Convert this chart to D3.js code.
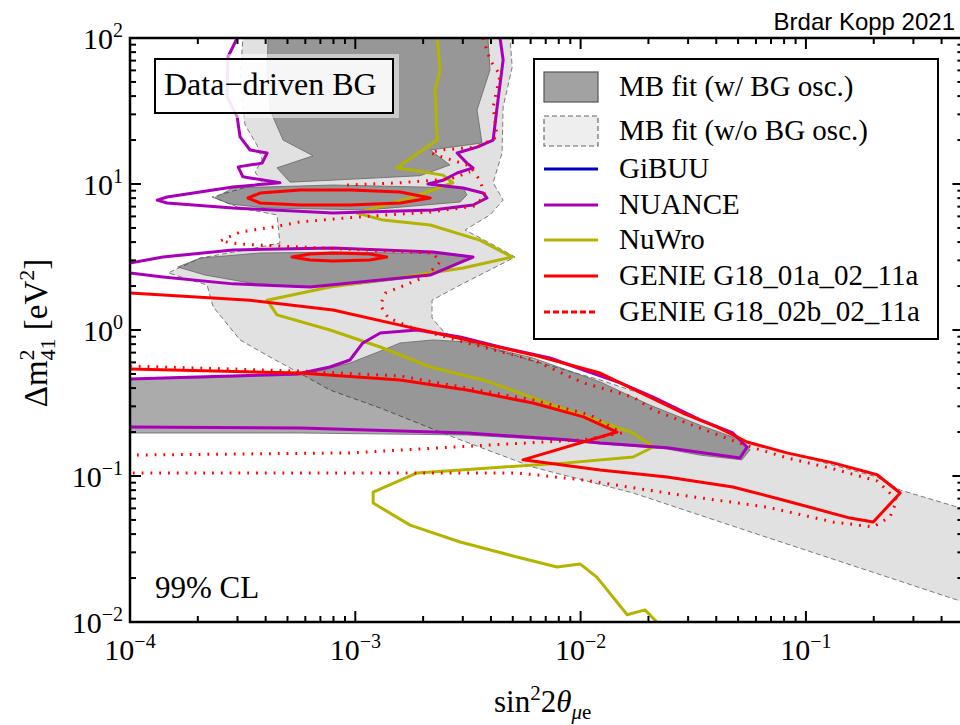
<!DOCTYPE html>
<html><head><meta charset="utf-8">
<script src="https://cdn.jsdelivr.net/npm/d3@7"></script>
<style>body{margin:0;background:#fff}svg{display:block}</style>
</head><body>
<svg id="chart" width="960" height="725"></svg>
<script>
// ---------------- DATA (sin^2 2theta, Δm^2 in eV^2) ----------------
const xTickExponents = [-4, -3, -2, -1];
const yTickExponents = [-2, -1, 0, 1, 2];
const legendLabels = ["MB fit (w/ BG osc.)", "MB fit (w/o BG osc.)", "GiBUU", "NUANCE", "NuWro", "GENIE G18_01a_02_11a", "GENIE G18_02b_02_11a"];

// MB fit without BG oscillation (light region)
const mbFitNoOsc = [[3.17e-4,100],[4.86e-3,100],[4.97e-3,63.2],[4.53e-3,33.7],[4.48e-3,16.3],[4.09e-3,10.2],[4.53e-3,7.76],[3.96e-3,6.14],[3.07e-3,4.84],[3.96e-3,3.94],[5.12e-3,3.16],[3.96e-3,2.58],[2.92e-3,2.03],[2.19e-3,1.60],[2.19e-3,1.21],[2.50e-3,0.953],[3.23e-3,0.828],[5.96e-3,0.623],[1.22e-2,0.455],[2.25e-2,0.332],[5.48e-2,0.171],[0.207,0.0984],[0.262,0.0802],[0.469,0.0613],[0.5,0.0594],[0.5,0.0137],[6.25e-2,0.0394],[1.71e-2,0.0765],[6.15e-3,0.115],[2.71e-3,0.185],[1.29e-3,0.292],[7.72e-4,0.388],[5.86e-4,0.492],[4.18e-4,0.653],[3.08e-4,0.855],[2.34e-4,1.44],[2.20e-4,2.03],[1.48e-4,2.46],[2.05e-4,3.11],[3.08e-4,3.48],[4.63e-4,3.94],[4.49e-4,6.14],[3.08e-4,6.85],[2.31e-4,8.15],[3.86e-4,10.2],[3.59e-4,12.1],[3.86e-4,14.6],[3.66e-4,18.5],[3.24e-4,25.4],[3.08e-4,51.5]];

// MB fit with BG oscillation (dark regions)
const mbFitOscTop = [[4.10e-4,100],[3.88e-3,100],[3.96e-3,60.4],[3.47e-3,32.1],[3.65e-3,19.1],[2.15e-3,17.1],[2.63e-3,13.5],[1.94e-3,11.4],[7.72e-4,10.6],[5.13e-4,10.3],[4.49e-4,12.9],[6.49e-4,15.6],[4.78e-4,20.0],[4.18e-4,32.1],[4.06e-4,60.4]];
const mbFitOscBand8 = [[2.38e-4,8.02],[2.86e-4,9.40],[7.96e-4,9.84],[3.01e-3,9.40],[3.13e-3,8.41],[2.92e-3,7.53],[1.13e-3,6.64],[4.06e-4,6.85],[2.78e-4,7.29]];
const mbFitOscBand3 = [[1.63e-4,2.70],[2.05e-4,3.11],[3.78e-4,3.37],[9.47e-4,3.42],[2.38e-3,3.32],[3.13e-3,3.16],[2.63e-3,2.66],[1.94e-3,2.31],[9.47e-4,2.03],[5.69e-4,1.97],[3.41e-4,2.10],[2.15e-4,2.38]];
const mbFitOscLow = [[1e-4,0.461],[2.05e-4,0.469],[5.86e-4,0.492],[7.72e-4,0.549],[9.47e-4,0.594],[1.33e-3,0.730],[1.58e-3,0.815],[2.21e-3,0.855],[3.13e-3,0.828],[4.39e-3,0.730],[6.15e-3,0.643],[8.71e-3,0.532],[1.22e-2,0.441],[2.03e-2,0.306],[3.39e-2,0.223],[5.10e-2,0.177],[5.65e-2,0.151],[5.20e-2,0.129],[3.39e-2,0.139],[2.42e-2,0.153],[1.22e-2,0.166],[8.71e-3,0.174],[3.13e-3,0.191],[5.69e-4,0.197],[1e-4,0.197]];

// NUANCE
const nuanceTop = [[2.99e-4,100],[2.72e-4,74.1],[2.70e-4,39.4],[2.99e-4,28.8],[3.08e-4,21.0],[3.41e-4,17.1],[4.06e-4,16.3],[3.86e-4,13.9],[3.02e-4,13.1],[3.17e-4,11.2],[4.63e-4,10.2],[2.86e-4,9.53],[1.46e-4,8.15],[1.32e-4,7.76],[1.46e-4,7.41],[2.86e-4,6.85],[7.96e-4,6.32],[2.21e-3,6.64],[3.33e-3,7.18],[3.84e-3,8.02],[3.69e-3,8.67],[3.01e-3,9.40],[2.10e-3,10.0],[2.45e-3,10.6],[2.83e-3,11.9],[3.33e-3,12.9],[3.13e-3,13.9],[2.83e-3,16.3],[3.47e-3,17.9],[4.09e-3,20.0],[4.26e-3,33.7],[4.53e-3,70.7],[4.39e-3,100]];
const nuanceMid = [[1e-4,2.88],[1.40e-4,3.16],[2.86e-4,3.53],[7.96e-4,3.65],[2.21e-3,3.42],[3.33e-3,3.16],[2.15e-3,2.38],[6.30e-4,1.97],[2.86e-4,2.07],[1.40e-4,2.31],[1e-4,2.46]];
const nuanceLow = [[1e-4,0.461],[5.51e-4,0.500],[7.72e-4,0.558],[9.47e-4,0.623],[1.08e-3,0.815],[1.29e-3,0.953],[1.88e-3,1.0],[2.92e-3,0.895],[4.39e-3,0.765],[7.31e-3,0.643],[1.03e-2,0.532],[1.50e-2,0.434],[2.10e-2,0.347],[3.39e-2,0.242],[4.74e-2,0.197],[5.48e-2,0.158],[5.10e-2,0.133],[2.42e-2,0.156],[1.22e-2,0.168],[8.71e-3,0.177],[3.13e-3,0.197],[5.69e-4,0.213],[1e-4,0.217]];

// NuWro
const nuwro = [[2.31e-3,100],[2.38e-3,60.4],[2.26e-3,44.0],[2.31e-3,20.0],[1.53e-3,12.9],[2.45e-3,11.5],[2.71e-3,10.2],[1.80e-3,8.15],[1.02e-3,6.32],[1.33e-3,5.66],[2.15e-3,5.24],[3.57e-3,4.13],[4.97e-3,3.16],[3.01e-3,2.66],[1.53e-3,2.27],[7.72e-4,1.97],[4.06e-4,1.60],[4.49e-4,1.27],[7.72e-4,1.0],[1.29e-3,0.765],[2.15e-3,0.558],[3.69e-3,0.455],[8.71e-3,0.283],[1.71e-2,0.197],[2.10e-2,0.158],[1.71e-2,0.135],[8.71e-3,0.123],[4.39e-3,0.115],[1.88e-3,0.105],[1.20e-3,0.0776],[1.20e-3,0.0653],[1.75e-3,0.0461],[2.92e-3,0.0353],[5.22e-3,0.0279],[7.85e-3,0.0238],[9.94e-3,0.0250],[1.18e-2,0.0203],[1.61e-2,0.0112],[1.93e-2,0.0121],[2.18e-2,0.01]];

// GENIE G18_01a_02_11a (solid)
const genieAIsland8 = [[3.34e-4,8.02],[3.78e-4,8.67],[5.69e-4,9.10],[9.47e-4,9.10],[1.58e-3,8.81],[2.15e-3,8.02],[1.58e-3,7.41],[9.47e-4,7.18],[5.69e-4,7.18],[3.78e-4,7.41]];
const genieAIsland3 = [[5.24e-4,3.16],[6.30e-4,3.32],[7.96e-4,3.37],[1.16e-3,3.32],[1.38e-3,3.16],[1.16e-3,3.02],[7.96e-4,2.97],[6.30e-4,3.02]];
const genieAMain = [[1e-4,0.541],[5.69e-4,0.507],[1.58e-3,0.455],[3.13e-3,0.388],[6.15e-3,0.316],[1.03e-2,0.254],[1.45e-2,0.200],[5.55e-3,0.129],[1.22e-2,0.110],[2.42e-2,0.0984],[4.74e-2,0.0841],[7.91e-2,0.0685],[0.157,0.0515],[0.199,0.0484],[0.262,0.0765],[0.207,0.102],[0.132,0.123],[8.24e-2,0.144],[5.48e-2,0.171],[4.03e-2,0.217],[2.84e-2,0.270],[2.03e-2,0.347],[1.22e-2,0.507],[6.15e-3,0.675],[3.13e-3,0.855],[1.58e-3,1.08],[7.96e-4,1.37],[3.41e-4,1.60],[1e-4,1.79]];

// GENIE G18_02b_02_11a (dotted)
const genieBMain = [[3.69e-3,100],[3.96e-3,70.7],[4.39e-3,55.8],[4.09e-3,33.7],[4.26e-3,21.0],[3.47e-3,17.9],[2.38e-3,17.1],[2.15e-3,16.3],[3.23e-3,13.3],[3.57e-3,10.6],[3.76e-3,8.41],[3.40e-3,7.06],[2.15e-3,6.43],[1.02e-3,5.94],[5.69e-4,5.50],[4.31e-4,5.07],[3.08e-4,4.69],[2.51e-4,4.07],[3.08e-4,3.88],[5.69e-4,3.70],[2.21e-3,3.37],[2.38e-3,2.92],[2.04e-3,2.31],[1.36e-3,1.79],[1.29e-3,1.48],[1.40e-3,1.21],[1.75e-3,1.05],[3.13e-3,0.815],[6.15e-3,0.623],[1.03e-2,0.434],[1.71e-2,0.347],[2.10e-2,0.283],[3.39e-2,0.213],[5.48e-2,0.161],[8.24e-2,0.133],[0.132,0.112],[0.207,0.0925],[0.254,0.0685],[0.236,0.0524],[0.199,0.0448],[0.132,0.0484],[6.71e-2,0.0613],[2.76e-2,0.0741],[1.03e-2,0.0939],[5.22e-3,0.105],[9.47e-4,0.105],[1e-4,0.105]];
const genieBBand8Top = [[9.19e-4,9.84],[1.58e-3,10.2],[2.63e-3,10.8],[3.23e-3,12.1]];
const genieBLow = [[1e-4,0.566],[5.69e-4,0.524],[1.58e-3,0.484],[3.13e-3,0.401],[6.15e-3,0.332],[1.10e-2,0.262],[1.53e-2,0.197],[1.03e-2,0.177],[9.47e-4,0.144],[1e-4,0.139]];

// ---------------- CHART ----------------
const svg = d3.select("#chart");
const pL = 130, pR = 963.4, pT = 38, pB = 622;
const x = d3.scaleLog().domain([1e-4, 0.5]).range([pL, pR]);
const y = d3.scaleLog().domain([1e-2, 1e2]).range([pB, pT]);
const serif = "'Liberation Serif','Times New Roman',Times,serif";

svg.append("defs").append("clipPath").attr("id", "plotclip")
  .append("rect").attr("x", pL).attr("y", pT).attr("width", pR - pL).attr("height", pB - pT);

const line = d3.line().x(d => x(d[0])).y(d => y(d[1]));
const closed = d => line(d) + "Z";
const plot = svg.append("g").attr("clip-path", "url(#plotclip)");

const PURPLE = "#a800b8", OLIVE = "#b3b300", RED = "#ff0000", BLUE = "#0000c0";

plot.append("path").attr("d", closed(mbFitNoOsc)).attr("fill", "#e1e1e1")
  .attr("stroke", "#7a7a7a").attr("stroke-width", 1).attr("stroke-dasharray", "5,3");
[mbFitOscTop, mbFitOscBand8, mbFitOscBand3, mbFitOscLow].forEach(p => {
  plot.append("path").attr("d", closed(p)).attr("fill", "#000").attr("fill-opacity", 0.33)
    .attr("stroke", "#666").attr("stroke-width", 0.8);
});

function curve(data, color, opts = {}) {
  plot.append("path").attr("d", opts.closed ? closed(data) : line(data))
    .attr("fill", "none").attr("stroke", color).attr("stroke-width", opts.w || 3)
    .attr("stroke-linejoin", "round")
    .attr("stroke-dasharray", opts.dash || null);
}
curve(nuwro, OLIVE);
curve(nuanceTop, PURPLE);
curve(nuanceMid, PURPLE);
curve(nuanceLow, PURPLE);
curve(genieAIsland8, RED, {closed: true});
curve(genieAIsland3, RED, {closed: true});
curve(genieAMain, RED);
curve(genieBMain, RED, {dash: "1.8,7", w: 3});
curve(genieBBand8Top, RED, {dash: "1.8,7", w: 3});
curve(genieBLow, RED, {dash: "1.8,7", w: 3});

// ---------------- AXES / TICKS ----------------
const axes = svg.append("g");
const xMajor = xTickExponents.map(e => Math.pow(10, e));
const xMinor = [];
xMajor.forEach(d => { for (let k = 2; k <= 9; k++) { const v = k * d; if (v <= 0.5) xMinor.push(v); } });
const yMajor = yTickExponents.map(e => Math.pow(10, e));
const yMinor = [];
yMajor.slice(0, -1).forEach(d => { for (let k = 2; k <= 9; k++) yMinor.push(k * d); });

function ticks(vals, len, isX) {
  vals.forEach(v => {
    if (isX) {
      axes.append("line").attr("x1", x(v)).attr("x2", x(v)).attr("y1", pB).attr("y2", pB - len).attr("stroke", "#000").attr("stroke-width", 2);
      axes.append("line").attr("x1", x(v)).attr("x2", x(v)).attr("y1", pT).attr("y2", pT + len).attr("stroke", "#000").attr("stroke-width", 2);
    } else {
      axes.append("line").attr("y1", y(v)).attr("y2", y(v)).attr("x1", pL).attr("x2", pL + len).attr("stroke", "#000").attr("stroke-width", 2);
      axes.append("line").attr("y1", y(v)).attr("y2", y(v)).attr("x1", pR).attr("x2", pR - len).attr("stroke", "#000").attr("stroke-width", 2);
    }
  });
}
ticks(xMajor, 11, true); ticks(xMinor, 6, true);
ticks(yMajor, 11, false); ticks(yMinor, 6, false);

axes.append("rect").attr("x", pL).attr("y", pT).attr("width", pR - pL).attr("height", pB - pT)
  .attr("fill", "none").attr("stroke", "#000").attr("stroke-width", 2.5);

function powLabel(g, exp) {
  g.append("tspan").text("10");
  g.append("tspan").attr("font-size", 20).attr("dy", -12).text(exp < 0 ? "\u2212" + (-exp) : String(exp));
}
xTickExponents.forEach((e, i) => {
  const t = svg.append("text").attr("x", x(xMajor[i])).attr("y", 660).attr("text-anchor", "middle")
    .attr("font-family", serif).attr("font-size", 30);
  powLabel(t, e);
});
yTickExponents.forEach((e, i) => {
  const t = svg.append("text").attr("x", 123).attr("y", y(yMajor[i]) + 11).attr("text-anchor", "end")
    .attr("font-family", serif).attr("font-size", 30);
  powLabel(t, e);
});

const xt = svg.append("text").attr("x", 494).attr("y", 712).attr("font-family", serif).attr("font-size", 31);
xt.append("tspan").text("sin");
xt.append("tspan").attr("font-size", 21).attr("dy", -12).text("2");
xt.append("tspan").attr("dy", 12).text("2");
xt.append("tspan").attr("font-style", "italic").text("\u03b8");
xt.append("tspan").attr("font-size", 21).attr("dy", 7).attr("font-style", "italic").text("\u03bc");
xt.append("tspan").attr("font-size", 21).text("e");

const yt = svg.append("text").attr("transform", "translate(47,333) rotate(-90)").attr("text-anchor", "middle")
  .attr("font-family", serif).attr("font-size", 33);
yt.append("tspan").text("\u0394m");
yt.append("tspan").attr("font-size", 22).attr("dy", -13).text("2");
yt.append("tspan").attr("font-size", 22).attr("dx", -11).attr("dy", 21).text("41");
yt.append("tspan").attr("dy", -8).text(" [eV");
yt.append("tspan").attr("font-size", 22).attr("dy", -13).text("2");
yt.append("tspan").attr("dy", 13).text("]");

svg.append("text").attr("x", 955).attr("y", 30).attr("text-anchor", "end")
  .attr("font-family", "'Liberation Sans',Arial,sans-serif").attr("font-size", 24).text("Brdar Kopp 2021");

svg.append("rect").attr("x", 149).attr("y", 54).attr("width", 250).attr("height", 64).attr("fill", "#fff").attr("fill-opacity", 0.5);
svg.append("rect").attr("x", 155).attr("y", 59).attr("width", 238).attr("height", 54)
  .attr("fill", "#fff").attr("fill-opacity", 0.82).attr("stroke", "#000").attr("stroke-width", 2);
svg.append("text").attr("x", 164).attr("y", 95).attr("font-family", serif).attr("font-size", 32).text("Data\u2212driven BG");

svg.append("text").attr("x", 155).attr("y", 598).attr("font-family", serif).attr("font-size", 31).text("99% CL");

const lg = svg.append("g");
lg.append("rect").attr("x", 534).attr("y", 59).attr("width", 404).attr("height", 280)
  .attr("fill", "#fff").attr("stroke", "#000").attr("stroke-width", 2);
const rowsY = [87, 131, 169, 205, 240, 276, 312];
lg.append("rect").attr("x", 544).attr("y", 72).attr("width", 54).attr("height", 30)
  .attr("fill", "#a2a2a2").attr("stroke", "#555").attr("stroke-width", 1.2);
lg.append("rect").attr("x", 544).attr("y", 116).attr("width", 54).attr("height", 30)
  .attr("fill", "#eeeeee").attr("stroke", "#666").attr("stroke-width", 1.2).attr("stroke-dasharray", "5,3");
const legendStyles = [null, null, {c: BLUE}, {c: PURPLE}, {c: OLIVE}, {c: RED}, {c: RED, dash: "6,3"}];
legendStyles.forEach((s, i) => {
  if (!s) return;
  lg.append("line").attr("x1", 544).attr("x2", 598).attr("y1", rowsY[i]).attr("y2", rowsY[i])
    .attr("stroke", s.c).attr("stroke-width", 3.2).attr("stroke-dasharray", s.dash || null);
});
legendLabels.forEach((t, i) => {
  lg.append("text").attr("x", 619).attr("y", rowsY[i] + 9).attr("font-family", serif).attr("font-size", 29).text(t);
});
</script>
</body></html>
